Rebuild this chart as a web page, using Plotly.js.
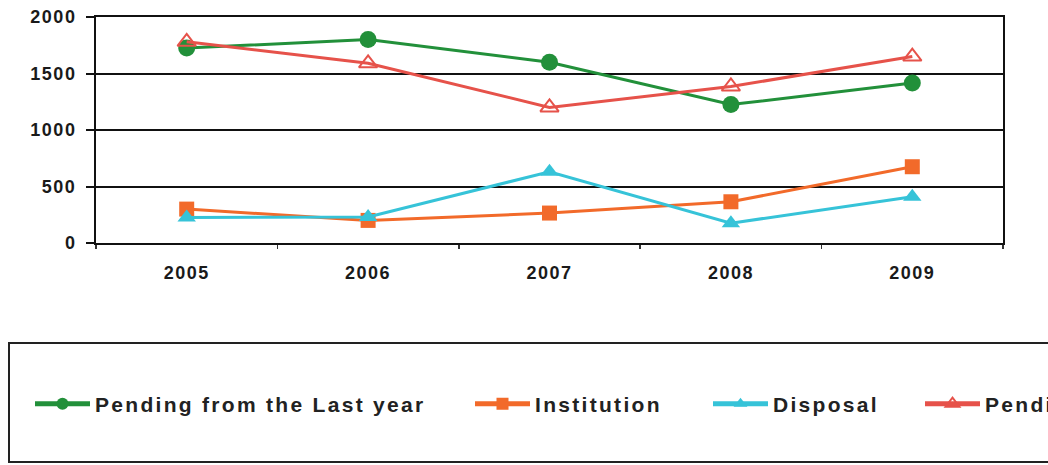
<!DOCTYPE html>
<html>
<head>
<meta charset="utf-8">
<script src="https://cdn.plot.ly/plotly-3.0.1.min.js"></script>
<style>
  html, body { margin: 0; padding: 0; width: 1048px; height: 465px; overflow: hidden; background: #fff; }
  #chart { width: 1400px; height: 465px; }
  .legendtext, .legend2text, .legend3text, .legend4text { letter-spacing: 2.3px; }
  .xtick text, .ytick text { letter-spacing: 1.5px; }
</style>
</head>
<body>
<div id="chart"></div>
<script>
// Yearly case counts
const years = ['2005', '2006', '2007', '2008', '2009'];
const pendingFromLastYear = [1725, 1800, 1600, 1225, 1415];
const institution = [300, 200, 265, 365, 675];
const disposal = [225, 230, 630, 175, 410];
const pendingAtEnd = [1780, 1590, 1200, 1385, 1650];

const seriesNames = ['Pending from the Last year', 'Institution', 'Disposal', 'Pending at the end'];
const yTicks = [0, 500, 1000, 1500, 2000];

// Page geometry (px)
const W = 1400, H = 465;
const M = { l: 96, r: W - 1003, t: 17, b: H - 243 };
const plotW = W - M.l - M.r, plotH = H - M.t - M.b;
const px2x = p => (p - M.l) / plotW;
const px2y = p => (H - M.b - p) / plotH;

const colors = ['#22903a', '#f26a2a', '#36c3d8', '#e6524a'];
const legendIds = ['legend', 'legend2', 'legend3', 'legend4'];
// left edge (px) of each legend entry's line sample
const legendLeft = [35, 475, 713, 925];

const traces = [
  { y: pendingFromLastYear, name: seriesNames[0],
    line: { color: colors[0], width: 3 },
    marker: { symbol: 'circle', size: 17, color: colors[0] } },
  { y: institution, name: seriesNames[1],
    line: { color: colors[1], width: 3 },
    marker: { symbol: 'square', size: 15, color: colors[1] } },
  { y: disposal, name: seriesNames[2],
    line: { color: colors[2], width: 3 },
    marker: { symbol: 'triangle-up', size: 16, color: colors[2] } },
  { y: pendingAtEnd, name: seriesNames[3],
    line: { color: colors[3], width: 3 },
    marker: { symbol: 'triangle-up-open', size: 16, color: colors[3], line: { width: 2, color: colors[3] } } }
].map((t, i) => Object.assign({ x: years, type: 'scatter', mode: 'lines+markers', legend: legendIds[i] }, t));

const tickFont = { family: 'Liberation Sans, Arial, sans-serif', size: 18, color: '#1a1a1a', weight: 'bold' };
const legendFont = { family: 'Liberation Sans, Arial, sans-serif', size: 21, color: '#222', weight: 'bold' };

const layout = {
  width: W, height: H,
  margin: M,
  paper_bgcolor: '#fff', plot_bgcolor: '#fff',
  showlegend: true,
  xaxis: {
    type: 'category',
    range: [-0.5, 4.5],
    showgrid: false,
    showline: true, linecolor: '#111', linewidth: 2, mirror: true,
    ticks: 'outside', tickson: 'boundaries', ticklen: 4, tickwidth: 1.5, tickcolor: '#333',
    ticklabelstandoff: 12,
    tickfont: tickFont,
    fixedrange: true
  },
  yaxis: {
    range: [0, 2000],
    tickvals: yTicks,
    ticktext: yTicks.map(String),
    showgrid: true, gridcolor: '#111', gridwidth: 2,
    zeroline: false,
    showline: true, linecolor: '#111', linewidth: 2, mirror: true,
    ticks: 'outside', ticklen: 8, tickwidth: 2, tickcolor: '#111',
    ticklabelstandoff: 6,
    tickfont: tickFont,
    fixedrange: true
  },
  shapes: [{
    type: 'rect', xref: 'paper', yref: 'paper', layer: 'below',
    x0: px2x(9), x1: px2x(1380), y0: px2y(343), y1: px2y(462),
    line: { color: '#222', width: 2 }, fillcolor: 'rgba(0,0,0,0)'
  }]
};

legendIds.forEach((id, i) => {
  layout[id] = {
    orientation: 'h',
    xref: 'container', yref: 'container',
    x: (legendLeft[i] - 5) / W, xanchor: 'left',
    y: 1 - 404 / H, yanchor: 'middle',
    bgcolor: 'rgba(0,0,0,0)',
    borderwidth: 0,
    itemwidth: 55,
    itemsizing: 'constant',
    font: legendFont
  };
});

Plotly.newPlot('chart', traces, layout, { displayModeBar: false, staticPlot: true });
</script>
</body>
</html>
